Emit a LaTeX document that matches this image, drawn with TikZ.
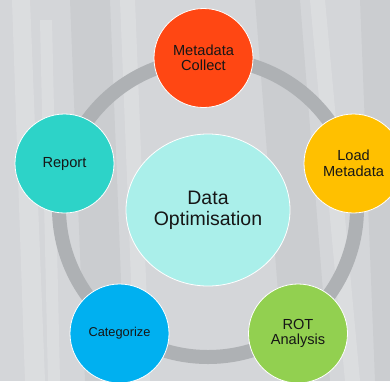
\documentclass[tikz,border=0pt]{standalone}
\usepackage{fontspec}
\setmainfont{Liberation Sans}
\definecolor{bgc}{HTML}{D4D6D9}
\definecolor{ringc}{HTML}{AEB1B4}
\definecolor{cOrange}{HTML}{FF4713}
\definecolor{cYellow}{HTML}{FFC000}
\definecolor{cGreen}{HTML}{92D050}
\definecolor{cBlue}{HTML}{00B0F0}
\definecolor{cTeal}{HTML}{2DD3C8}
\definecolor{cCenter}{HTML}{AAEFEA}
\definecolor{txt}{HTML}{161616}
\tikzset{
  stage/.style={circle, draw=white, line width=0.8pt, minimum size=99pt, inner sep=0pt,
    align=center, text=txt, font=\fontsize{14.6}{15.5}\selectfont},
  hub/.style={ellipse, draw=white, fill=cCenter, line width=0.8pt, minimum width=164pt, minimum height=152pt,
    inner sep=0pt, align=center, text=txt, font=\fontsize{19.5}{21}\selectfont},
  strip/.style={fill=white, opacity=0.18},
  darkstrip/.style={fill=black, opacity=0.04}
}
\usetikzlibrary{shapes.geometric}
\begin{document}
\begin{tikzpicture}[x=1pt,y=-1pt]
\useasboundingbox (0,0) rectangle (390,381);
\fill[bgc] (0,0) rectangle (390,381);
% faint photo-like texture
\fill[strip] (12,0) -- (30,0) -- (45,381) -- (25,381) -- cycle;
\fill[strip] (40,20) -- (52,20) -- (60,381) -- (48,381) -- cycle;
\fill[darkstrip] (70,0) -- (110,0) -- (125,381) -- (85,381) -- cycle;
\fill[strip] (120,0) -- (135,0) -- (150,381) -- (135,381) -- cycle;
\fill[darkstrip] (255,0) -- (300,0) -- (330,381) -- (285,381) -- cycle;
\fill[strip] (310,0) -- (325,0) -- (360,381) -- (345,381) -- cycle;
\fill[darkstrip] (360,0) -- (390,0) -- (390,381) -- (375,381) -- cycle;
% ring
\coordinate (o) at (208,208);
\draw[ringc, line width=14pt] (o) circle[radius=149];
% nodes
\node[hub] (hub) at (208,210) {Data\\Optimisation};
\node[stage, fill=cOrange] (collect) at (203.5,58) {Metadata\\Collect};
\node[stage, fill=cYellow] (load) at (353.5,163.5) {Load\\Metadata};
\node[stage, fill=cGreen] (rot) at (298,333.5) {ROT\\Analysis};
\node[stage, fill=cBlue, font=\fontsize{12.8}{14}\selectfont] (cat) at (119.5,333.5) {Categorize};
\node[stage, fill=cTeal] (report) at (64.5,163.5) {Report};
\end{tikzpicture}
\end{document}
